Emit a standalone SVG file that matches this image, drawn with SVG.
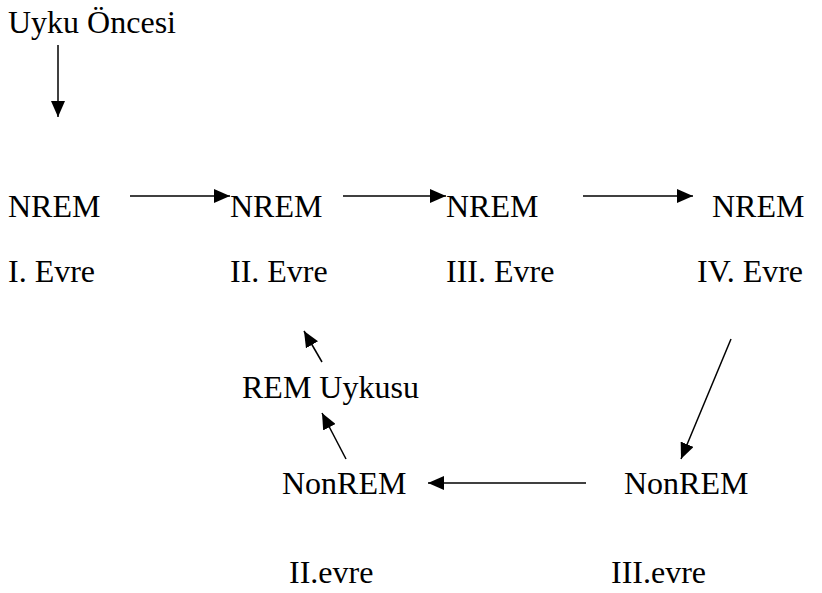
<svg xmlns="http://www.w3.org/2000/svg" width="822" height="593" viewBox="0 0 822 593">
<style>
text{font-family:"Liberation Serif","Times New Roman",serif;font-size:32px;fill:#000}
.c line{stroke:#000;stroke-width:1.5}
</style>
<defs>
<marker id="ahL" viewBox="0 0 16 14" refX="16" refY="7" markerWidth="16" markerHeight="14" markerUnits="userSpaceOnUse" orient="auto"><path d="M0,0 L16,7 L0,14 z" fill="#000"/></marker>
</defs>
<rect width="822" height="593" fill="#fff"/>
<g id="n-pre"><text x="8" y="33">Uyku Öncesi</text></g>
<g id="n-nrem1"><text x="8" y="217">NREM</text><text x="8" y="282">I. Evre</text></g>
<g id="n-nrem2"><text x="230" y="217">NREM</text><text x="230" y="282">II. Evre</text></g>
<g id="n-nrem3"><text x="446" y="217">NREM</text><text x="446" y="282">III. Evre</text></g>
<g id="n-nrem4"><text x="712" y="217">NREM</text><text x="697" y="282">IV. Evre</text></g>
<g id="n-rem"><text x="242" y="398">REM Uykusu</text></g>
<g id="n-non2"><text x="282" y="494">NonREM</text><text x="289" y="583">II.evre</text></g>
<g id="n-non3"><text x="624" y="494">NonREM</text><text x="611" y="583">III.evre</text></g>
<g class="c" id="connectors">
<line x1="58" y1="45" x2="58" y2="117" marker-end="url(#ahL)"/>
<line x1="130" y1="196" x2="230" y2="196" marker-end="url(#ahL)"/>
<line x1="343" y1="196" x2="446" y2="196" marker-end="url(#ahL)"/>
<line x1="583" y1="196" x2="693" y2="196" marker-end="url(#ahL)"/>
<line x1="731" y1="339" x2="681" y2="459" marker-end="url(#ahL)"/>
<line x1="586" y1="483" x2="428" y2="483" marker-end="url(#ahL)"/>
<line x1="346" y1="459" x2="322" y2="413" marker-end="url(#ahL)"/>
<line x1="322" y1="362" x2="304" y2="331" marker-end="url(#ahL)"/>
</g>
</svg>
